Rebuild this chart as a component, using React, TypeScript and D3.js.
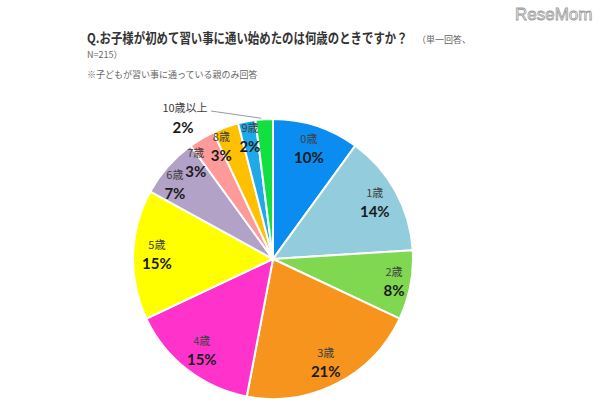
import React from "react";
import * as d3 from "d3";

const categories = ["0歳", "1歳", "2歳", "3歳", "4歳", "5歳", "6歳", "7歳", "8歳", "9歳", "10歳以上"];
const values = [10, 14, 8, 21, 15, 15, 7, 3, 3, 2, 2];
const colors = ["#0a8cf0", "#93cddd", "#80d850", "#f7941d", "#ff33cc", "#ffff00", "#b3a2c7", "#ff9a9a", "#ffc000", "#1eaae8", "#10e040"];

const titleMain = "Q.お子様が初めて習い事に通い始めたのは何歳のときですか？";
const titleNote1 = "（単一回答、";
const titleNote2 = "N=215）";
const subNote = "※子どもが習い事に通っている親のみ回答";
const watermark = "ReseMom";

const W = 600;
const H = 420;
const cx = 273;
const cy = 259;
const R = 140;

export default function App() {
  const total = d3.sum(values);
  const pie = d3
    .pie<number>()
    .sort(null)
    .value((d) => d)
    .startAngle(0)
    .endAngle(2 * Math.PI);
  const arcs = pie(values);
  const arc = d3.arc<d3.PieArcDatum<number>>().innerRadius(0).outerRadius(R);
  const jp = "'Noto Sans CJK JP', 'Noto Sans', sans-serif";
  const num = "Lato, 'Noto Sans', sans-serif";
  const fmt = (v: number) => `${Math.round((v / total) * 100)}%`;

  // label angles: spread small slices so that neighbouring labels do not collide
  const n = arcs.length;
  const mids = arcs.map((a) => (a.startAngle + a.endAngle) / 2);
  const labelAngles = mids.slice();
  const minGap = (14 * Math.PI) / 180;
  for (let i = n - 3; i >= 0; i--) {
    if (labelAngles[i + 1] - labelAngles[i] < minGap) {
      labelAngles[i] = labelAngles[i + 1] - minGap;
    }
  }

  return (
    <svg width={W} height={H} style={{ position: "absolute", left: 0, top: 0, background: "#fff" }}>
      <text x={515} y={20} fontFamily="Arial, 'Liberation Sans', sans-serif" fontSize={17} fill="#fff" stroke="#9a9a9a" strokeWidth={0.8}>
        {watermark}
      </text>
      <text transform="translate(87,43) scale(0.84,1)" fontFamily={jp} fontSize={13.6} fontWeight="bold" fill="#333">
        {titleMain}
      </text>
      <text x={417} y={43} fontFamily={jp} fontSize={9} fill="#666">
        {titleNote1}
      </text>
      <text x={87} y={58} fontFamily={jp} fontSize={9} fill="#666">
        {titleNote2}
      </text>
      <text x={87} y={78} fontFamily={jp} fontSize={9} fill="#666">
        {subNote}
      </text>
      <g transform={`translate(${cx},${cy})`}>
        {arcs.map((a, i) => (
          <path key={i} d={arc(a) || ""} fill={colors[i]} stroke="#fff" strokeWidth={2} />
        ))}
        {arcs.map((a, i) => {
          const mid = mids[i];
          if (i === n - 1) {
            const ex = Math.sin(mid) * R;
            const ey = -Math.cos(mid) * R;
            const lx = -88;
            const ly = -141;
            return (
              <g key={"l" + i}>
                <polyline points={`${lx + 26},${ly - 7} ${ex - 3},${ey - 1}`} fill="none" stroke="#999" strokeWidth={1} />
                <text x={lx} y={ly - 6} textAnchor="middle" fontFamily={jp} fontSize={11} fill="#404040">
                  {categories[i]}
                </text>
                <text x={lx - 2} y={ly + 15} textAnchor="middle" fontFamily={num} fontSize={15} fontWeight="bold" fill="#1a1a1a">
                  {fmt(a.value)}
                </text>
              </g>
            );
          }
          const small = a.value / total < 0.1;
          const rl = small ? R * 0.88 : R * 0.83;
          const ang = labelAngles[i];
          const x = Math.sin(ang) * rl;
          const y = -Math.cos(ang) * rl;
          return (
            <g key={"l" + i}>
              <text x={x} y={y - 6} textAnchor="middle" fontFamily={jp} fontSize={11} fill="#404040">
                {categories[i]}
              </text>
              <text x={x} y={y + 14} textAnchor="middle" fontFamily={num} fontSize={15} fontWeight="bold" fill="#1a1a1a">
                {fmt(a.value)}
              </text>
            </g>
          );
        })}
      </g>
    </svg>
  );
}
